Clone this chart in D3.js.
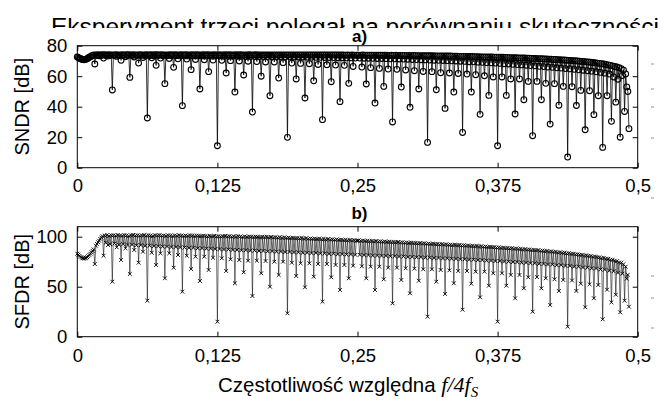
<!DOCTYPE html>
<html>
<head>
<meta charset="utf-8">
<script src="https://cdn.jsdelivr.net/npm/d3@7"></script>
<style>
body { margin: 0; background: #fff; }
svg text { font-family: "Liberation Sans", Arial, sans-serif; fill: #000; }
</style>
</head>
<body>
<div id="chart"></div>
<script>

// x axis: relative frequency f/4fS on a 1/1024 grid, 8 points per 1/128 step
var freqTicks = [0, 0.125, 0.25, 0.375, 0.5];
var freqTickLabels = ["0", "0,125", "0,25", "0,375", "0,5"];
var sndrTicks = [0, 20, 40, 60, 80];
var sfdrTicks = [0, 50, 100];

// ---- SNDR [dB] ----
// at k/128, k = 0..63
var sndrDip = [72.6, 71.1, 68.0, 71.9, 51.0, 70.4, 59.2, 68.6, 32.6, 67.1,
    55.1, 65.8, 40.7, 64.3, 51.6, 63.0, 14.4, 62.1, 49.6, 60.8,
    36.5, 60.0, 47.2, 58.8, 19.9, 58.2, 45.7, 57.0, 31.5, 56.4,
    43.3, 55.3, 73.8, 54.9, 42.4, 53.3, 30.0, 52.9, 39.6, 51.6,
    16.6, 51.1, 38.9, 49.6, 23.1, 49.6, 35.0, 47.4, 14.4, 47.4,
    35.2, 44.6, 21.0, 44.6, 28.6, 41.0, 7.0, 40.8, 24.9, 34.8,
    13.3, 30.4, 20.0, 25.6];
// at (2k+1)/256
var sndrMid = [71.1, 72.8, 73.4, 73.2, 73.0, 72.8, 72.6, 72.3, 72.1, 71.9,
    71.6, 71.4, 71.2, 71.0, 70.8, 70.6, 70.4, 70.2, 70.0, 69.8,
    69.6, 69.3, 69.3, 68.9, 68.6, 68.4, 68.2, 67.7, 67.5, 67.3,
    67.1, 66.4, 66.0, 65.6, 65.1, 64.7, 64.5, 64.1, 63.6, 63.1,
    63.0, 62.3, 62.1, 61.8, 61.4, 61.0, 60.3, 59.5, 59.5, 58.2,
    58.2, 56.6, 56.6, 55.3, 55.1, 53.3, 53.1, 50.7, 50.5, 47.2,
    47.2, 43.0, 36.9];
// at odd multiples of 1/512 (two per step)
var sndrLow = [71.8, 70.8, 71.9, 73.6, 73.6, 73.6, 73.6, 73.5, 73.5, 73.5,
    73.6, 73.5, 73.5, 73.5, 73.5, 73.4, 73.4, 73.4, 73.5, 73.4,
    73.4, 73.4, 73.4, 73.3, 73.3, 73.3, 73.3, 73.3, 73.3, 73.2,
    73.2, 73.2, 73.2, 73.1, 73.1, 73.1, 73.1, 73.0, 73.0, 73.0,
    73.0, 72.9, 72.9, 72.9, 72.8, 72.8, 72.8, 72.7, 72.7, 72.6,
    72.6, 72.6, 72.5, 72.5, 72.4, 72.4, 72.3, 72.3, 72.2, 72.1,
    72.1, 72.0, 72.0, 71.9, 71.9, 71.8, 71.8, 71.7, 71.6, 71.6,
    71.5, 71.4, 71.4, 71.3, 71.2, 71.1, 71.0, 70.9, 70.8, 70.7,
    70.6, 70.5, 70.4, 70.3, 70.2, 70.1, 70.0, 69.8, 69.7, 69.5,
    69.4, 69.2, 69.1, 68.9, 68.8, 68.6, 68.4, 68.2, 68.0, 67.8,
    67.6, 67.4, 67.2, 67.0, 66.8, 66.5, 66.3, 66.0, 65.8, 65.5,
    65.3, 65.0, 64.8, 64.5, 64.2, 63.9, 63.6, 63.3, 62.9, 62.5,
    62.0, 61.4, 59.5, 58.0, 60.5, 53.0];
// at odd multiples of 1/1024 (four per step) - the top of the band
var sndrTop = [72.2, 71.4, 70.9, 70.9,  71.5, 72.4, 73.3, 73.9,
    74.0, 74.1, 74.0, 74.1,  74.1, 74.0, 74.1, 74.0,  74.0, 74.1, 74.0, 74.0,
    74.1, 74.0, 74.1, 74.1,  74.0, 74.1, 74.0, 74.0,  74.1, 74.0, 74.0, 74.1,
    74.0, 74.1, 74.0, 74.1,  74.1, 74.0, 74.1, 74.0,  74.0, 74.0, 74.1, 74.0,
    74.1, 74.0, 74.0, 74.1,  74.0, 74.1, 74.0, 74.0,  74.1, 74.0, 74.1, 74.0,
    74.0, 74.1, 74.0, 74.1,  74.0, 74.0, 74.1, 74.0,  74.1, 74.0, 74.0, 74.1,
    74.0, 74.1, 74.0, 74.0,  74.1, 74.0, 74.1, 74.0,  74.0, 74.0, 74.1, 74.0,
    74.0, 74.1, 74.0, 74.0,  74.0, 73.9, 74.0, 74.0,  73.9, 74.0, 74.0, 73.9,
    74.0, 73.9, 74.0, 74.0,  73.9, 74.0, 73.9, 74.0,  74.0, 73.9, 74.0, 73.9,
    73.9, 74.0, 73.9, 73.9,  74.0, 73.9, 73.9, 74.0,  73.9, 73.9, 74.0, 73.9,
    73.9, 74.0, 73.9, 73.9,  73.9, 73.9, 73.8, 73.9,  73.8, 73.9, 73.8, 73.8,
    73.8, 73.8, 73.9, 73.8,  73.8, 73.7, 73.8, 73.8,  73.7, 73.8, 73.7, 73.7,
    73.7, 73.7, 73.6, 73.7,  73.6, 73.7, 73.6, 73.6,  73.6, 73.6, 73.5, 73.6,
    73.5, 73.6, 73.5, 73.5,  73.5, 73.5, 73.4, 73.5,  73.4, 73.4, 73.4, 73.3,
    73.3, 73.3, 73.3, 73.2,  73.2, 73.2, 73.2, 73.1,  73.1, 73.1, 73.0, 73.0,
    73.0, 73.0, 72.9, 72.9,  72.9, 72.8, 72.8, 72.8,  72.7, 72.7, 72.7, 72.6,
    72.6, 72.6, 72.5, 72.5,  72.4, 72.4, 72.4, 72.3,  72.3, 72.2, 72.2, 72.1,
    72.1, 72.0, 72.0, 71.9,  71.9, 71.8, 71.8, 71.7,  71.6, 71.6, 71.5, 71.5,
    71.4, 71.3, 71.3, 71.2,  71.1, 71.0, 71.0, 70.9,  70.8, 70.7, 70.6, 70.5,
    70.4, 70.3, 70.2, 70.1,  70.0, 69.8, 69.7, 69.6,  69.4, 69.3, 69.1, 69.0,
    68.8, 68.6, 68.4, 68.2,  68.0, 67.7, 67.4, 67.1,  66.8, 66.4, 66.0, 65.5,
    65.0, 64.0, 61.5, 50.0];

// ---- SFDR [dB] ----
var sfdrDip = [83.0, 78.8, 72.7, 81.0, 55.0, 76.7, 62.7, 74.0, 36.0, 71.7,
    58.4, 69.0, 45.0, 67.7, 55.7, 66.7, 15.0, 65.7, 53.4, 64.4,
    40.7, 63.4, 50.0, 61.7, 23.4, 60.7, 49.4, 60.0, 35.0, 59.4,
    46.7, 58.4, 96.0, 58.4, 46.7, 57.4, 33.4, 56.7, 43.4, 56.0,
    20.0, 55.0, 42.7, 53.4, 27.0, 53.0, 39.4, 51.0, 15.0, 51.0,
    38.4, 48.4, 25.0, 48.4, 31.7, 45.7, 10.0, 45.7, 29.4, 38.4,
    17.4, 34.4, 24.4, 30.0];
var sfdrMid = [79.0, 83.0, 96.0, 91.7, 89.4, 88.4, 86.7, 85.0, 84.0, 83.4,
    83.4, 81.7, 81.0, 80.0, 80.0, 79.0, 78.4, 77.4, 76.7, 76.0,
    76.0, 75.7, 75.0, 75.0, 74.0, 73.4, 73.4, 72.7, 72.7, 71.7,
    71.7, 71.0, 70.4, 70.0, 70.0, 69.0, 69.0, 68.4, 68.0, 67.4,
    67.4, 66.7, 66.4, 65.7, 65.7, 65.0, 65.0, 63.4, 63.4, 61.7,
    61.7, 59.4, 59.6, 58.4, 57.4, 56.7, 56.2, 53.0, 52.4, 51.7,
    47.0, 42.0, 36.0];
var sfdrLow = [80.8, 78.2, 80.6, 85.8, 92.8, 99.2, 94.0, 92.5, 93.2, 92.0,
    92.6, 91.8, 92.0, 91.4, 91.6, 90.8, 91.0, 90.6, 90.5, 90.1,
    90.2, 89.6, 89.7, 89.3, 89.2, 88.8, 88.9, 88.4, 88.4, 88.0,
    88.1, 87.6, 87.6, 87.2, 87.3, 86.8, 86.8, 86.5, 86.5, 86.0,
    86.1, 85.7, 85.8, 85.3, 85.4, 85.0, 85.1, 84.6, 84.7, 84.3,
    84.4, 83.9, 84.0, 83.6, 83.7, 83.2, 83.3, 82.9, 83.0, 82.5,
    82.6, 82.2, 82.3, 81.8, 81.9, 81.5, 81.6, 81.1, 81.2, 80.8,
    80.9, 80.4, 80.5, 80.1, 80.2, 79.7, 79.8, 79.4, 79.5, 79.0,
    79.1, 78.7, 78.7, 78.3, 78.3, 77.9, 77.9, 77.5, 77.5, 77.0,
    77.0, 76.6, 76.6, 76.1, 76.1, 75.6, 75.6, 75.1, 75.1, 74.6,
    74.6, 74.0, 74.0, 73.5, 73.4, 72.9, 72.8, 72.2, 72.2, 71.5,
    71.5, 70.8, 70.8, 70.0, 70.0, 69.2, 69.1, 68.3, 68.2, 67.2,
    67.1, 66.0, 65.5, 64.0, 63.0, 58.0];
var sfdrTop = [82.0, 79.8, 78.5, 78.3,  79.6, 81.8, 84.4, 87.2,
    91.0, 94.5, 97.8, 100.5,  101.2, 101.6, 100.8, 101.4,  101.5, 100.9, 101.7, 101.2,
    101.0, 101.6, 101.3, 100.7,  101.4, 101.8, 101.1, 101.5,  100.9, 101.3, 101.6, 101.0,
    101.5, 101.1, 100.6, 101.4,  101.2, 101.6, 101.0, 101.3,  100.8, 101.4, 101.1, 100.6,
    101.3, 100.9, 101.5, 101.0,  100.7, 101.2, 100.8, 101.3,  101.0, 100.6, 101.2, 100.9,
    100.5, 101.0, 100.7, 100.3,  100.9, 100.4, 100.8, 100.2,  100.6, 100.1, 100.5, 100.8,
    100.2, 100.6, 99.9, 100.4,  100.0, 100.5, 100.1, 99.7,  100.3, 99.8, 100.2, 99.9,
    99.6, 100.1, 99.8, 99.4,  99.9, 99.5, 100.0, 99.3,  99.7, 99.2, 99.6, 99.0,
    99.4, 98.9, 99.3, 98.8,  99.1, 98.6, 98.9, 98.4,  98.7, 98.3, 98.8, 98.1,
    98.5, 97.9, 98.3, 97.8,  98.0, 97.6, 98.1, 97.4,  97.8, 97.3, 97.6, 97.1,
    97.4, 96.9, 97.3, 96.8,  97.0, 96.6, 96.9, 96.4,  96.7, 96.2, 96.5, 96.0,
    96.3, 95.9, 96.2, 95.7,  95.9, 95.5, 95.8, 95.3,  95.6, 95.1, 95.4, 94.9,
    95.2, 94.8, 95.0, 94.5,  94.8, 94.4, 94.7, 94.1,  94.4, 94.0, 94.2, 93.7,
    94.0, 93.6, 93.8, 93.3,  93.6, 93.2, 93.4, 92.9,  93.2, 92.8, 93.0, 92.5,
    92.8, 92.3, 92.6, 92.1,  92.3, 91.9, 92.1, 91.6,  91.9, 91.4, 91.7, 91.2,
    91.4, 91.0, 91.2, 90.7,  90.9, 90.5, 90.7, 90.2,  90.4, 90.0, 90.2, 89.7,
    89.9, 89.5, 89.6, 89.1,  89.3, 88.9, 89.1, 88.6,  88.8, 88.3, 88.5, 88.0,
    88.2, 87.7, 87.9, 87.3,  87.5, 87.1, 87.2, 86.6,  86.8, 86.4, 86.5, 85.9,
    86.1, 85.6, 85.7, 85.1,  85.3, 84.8, 84.9, 84.2,  84.4, 83.9, 84.0, 83.3,
    83.5, 83.0, 83.0, 82.3,  82.5, 81.9, 81.9, 81.2,  81.4, 80.8, 80.7, 80.0,
    80.2, 79.5, 79.4, 78.6,  78.8, 78.0, 77.8, 76.9,  77.0, 76.0, 75.5, 74.3,
    74.0, 72.5, 70.0, 62.0];

// bits of page text peeking out at the right margin
var marginMarksY = [63, 88, 106, 137, 197, 275, 297, 327];


var W = 666, H = 403;
var svg = d3.select("#chart").append("svg")
    .attr("width", W)
    .attr("height", H);

// text of the page behind the figure, only its upper part shows
svg.append("clipPath").attr("id", "pageclip")
    .append("rect").attr("x", 0).attr("y", 0).attr("width", W).attr("height", 28);
svg.append("text")
    .attr("clip-path", "url(#pageclip)")
    .attr("x", 51)
    .attr("y", 35)
    .attr("textLength", 608)
    .attr("lengthAdjust", "spacingAndGlyphs")
    .style("font-size", "24.5px")
    .text("Eksperyment trzeci polegał na porównaniu skuteczności");

svg.selectAll(".margin-mark").data(marginMarksY)
    .enter().append("rect")
    .attr("class", "margin-mark")
    .attr("x", 651).attr("y", function(d) { return d; })
    .attr("width", 3).attr("height", 2)
    .attr("fill", "#c8c8c8");


FreqPanel = function(_svg, _data, _opts){
    this.svg = _svg;
    this.data = _data;
    this.opts = _opts;
    this.displayData = [];
    this.initVis();
}

FreqPanel.prototype.initVis = function(){
    var vis = this;

    vis.margin = { top: vis.opts.top, left: 77.3 };
    vis.width = 560.4;
    vis.height = vis.opts.height;

    vis.g = vis.svg.append("g")
        .attr("transform", "translate(" + vis.margin.left + "," + vis.margin.top + ")");

    vis.x = d3.scaleLinear().domain([0, 0.5]).range([0, vis.width]);
    vis.y = d3.scaleLinear().domain(vis.opts.yDomain).range([vis.height, 0]);

    vis.xAxis = d3.axisBottom(vis.x)
        .tickValues(freqTicks)
        .tickFormat(function(d, i) { return freqTickLabels[i]; })
        .tickSizeInner(-5).tickSizeOuter(0).tickPadding(vis.opts.xPad);
    vis.yAxis = d3.axisLeft(vis.y)
        .tickValues(vis.opts.yTicks)
        .tickSizeInner(-5).tickSizeOuter(0).tickPadding(10);

    // MATLAB style box: ticks on top and right too
    vis.g.append("g").attr("class", "x-axis axis")
        .attr("transform", "translate(0," + vis.height + ")")
        .call(vis.xAxis);
    vis.g.append("g").attr("class", "y-axis axis")
        .call(vis.yAxis);
    vis.g.append("g").attr("class", "axis")
        .call(d3.axisTop(vis.x).tickValues(freqTicks).tickFormat("").tickSizeInner(-5).tickSizeOuter(0));
    vis.g.append("g").attr("class", "axis")
        .attr("transform", "translate(" + vis.width + ",0)")
        .call(d3.axisRight(vis.y).tickValues(vis.opts.yTicks).tickFormat("").tickSizeInner(-5).tickSizeOuter(0));
    vis.g.append("rect")
        .attr("width", vis.width).attr("height", vis.height)
        .attr("fill", "none").attr("stroke", "#000").attr("stroke-width", 1);

    vis.g.selectAll(".axis path").remove();
    vis.g.selectAll(".axis line").attr("stroke", "#000");
    vis.g.selectAll(".axis text")
        .style("font-family", "'Liberation Sans', Arial, sans-serif")
        .style("font-size", "18.5px");

    vis.svg.append("text")
        .attr("x", vis.margin.left + vis.width / 2 + 2)
        .attr("y", vis.margin.top - vis.opts.titleGap)
        .attr("text-anchor", "middle")
        .style("font-weight", "bold")
        .style("font-size", "17px")
        .text(vis.opts.title);

    vis.svg.append("text")
        .attr("transform", "translate(29," + (vis.margin.top + vis.height / 2) + ") rotate(-90)")
        .attr("text-anchor", "middle")
        .style("font-size", "20px")
        .text(vis.opts.yLabel);

    vis.wrangleData();
}

FreqPanel.prototype.wrangleData = function(){
    var vis = this;
    var d = vis.data;
    // 8 samples per 1/128 step: dip, top, low, top, mid, top, low, top
    vis.displayData = [];
    for (var k = 0; k < d.dip.length; k++) {
        var i0 = 8 * k;
        vis.displayData.push({ f: i0 / 1024, v: d.dip[k] });
        if (k < d.mid.length) {
            vis.displayData.push({ f: (i0 + 1) / 1024, v: d.top[4 * k] });
            vis.displayData.push({ f: (i0 + 2) / 1024, v: d.low[2 * k] });
            vis.displayData.push({ f: (i0 + 3) / 1024, v: d.top[4 * k + 1] });
            vis.displayData.push({ f: (i0 + 4) / 1024, v: d.mid[k] });
            vis.displayData.push({ f: (i0 + 5) / 1024, v: d.top[4 * k + 2] });
            vis.displayData.push({ f: (i0 + 6) / 1024, v: d.low[2 * k + 1] });
            vis.displayData.push({ f: (i0 + 7) / 1024, v: d.top[4 * k + 3] });
        }
    }
    vis.updateVis();
}

FreqPanel.prototype.updateVis = function(){
    var vis = this;

    var line = d3.line()
        .x(function(d) { return vis.x(d.f); })
        .y(function(d) { return vis.y(d.v); });

    vis.g.append("path")
        .datum(vis.displayData)
        .attr("d", line)
        .attr("fill", "none")
        .attr("stroke", "#000")
        .attr("stroke-width", vis.opts.lineWidth);

    var marks = vis.g.selectAll(".mark").data(vis.displayData)
        .enter().append("g")
        .attr("class", "mark")
        .attr("transform", function(d) { return "translate(" + vis.x(d.f) + "," + vis.y(d.v) + ")"; });

    if (vis.opts.marker == "o") {
        marks.append("circle")
            .attr("r", 2.9)
            .attr("fill", "none")
            .attr("stroke", "#000")
            .attr("stroke-width", 1.1);
    } else {
        marks.append("path")
            .attr("d", "M-1.9,-1.9L1.9,1.9M-1.9,1.9L1.9,-1.9")
            .attr("stroke", "#000")
            .attr("stroke-width", 0.9);
    }
}

var panelA = new FreqPanel(svg,
    { dip: sndrDip, top: sndrTop, low: sndrLow, mid: sndrMid },
    { top: 45.7, height: 122, yDomain: [0, 80], yTicks: sndrTicks, xPad: 11.5,
      title: "a)", titleGap: 4, yLabel: "SNDR [dB]", marker: "o", lineWidth: 0.8 });

var panelB = new FreqPanel(svg,
    { dip: sfdrDip, top: sfdrTop, low: sfdrLow, mid: sfdrMid },
    { top: 226.7, height: 110, yDomain: [0, 110], yTicks: sfdrTicks, xPad: 12,
      title: "b)", titleGap: 8, yLabel: "SFDR [dB]", marker: "x", lineWidth: 0.55 });

// x axis label
var xl = svg.append("text")
    .attr("x", 218)
    .attr("y", 391.5)
    .style("font-size", "20.5px");
xl.append("tspan").text("Częstotliwość względna ");
xl.append("tspan")
    .style("font-family", "'Liberation Serif', 'Times New Roman', serif")
    .style("font-style", "italic")
    .style("font-size", "22px")
    .text("f/4f");
xl.append("tspan")
    .attr("dy", 5)
    .style("font-family", "'Liberation Serif', 'Times New Roman', serif")
    .style("font-style", "italic")
    .style("font-size", "15px")
    .text("S");

</script>
</body>
</html>
